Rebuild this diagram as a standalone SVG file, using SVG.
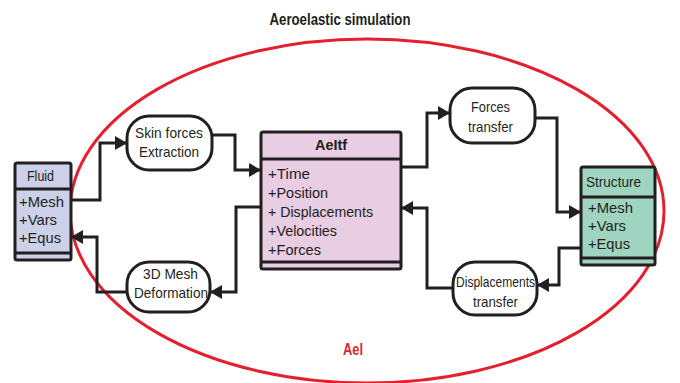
<svg xmlns="http://www.w3.org/2000/svg" width="680" height="383" viewBox="0 0 680 383">
<defs>
<style>
.t{font-family:"Liberation Sans",Arial,sans-serif;font-size:15px;fill:#231f20}
.b{font-weight:bold}
.box{stroke:#231f20;stroke-width:3}
.rr{fill:#fff;stroke:#231f20;stroke-width:3}
.c{fill:none;stroke:#231f20;stroke-width:3}
</style>
<marker id="ah" viewBox="0 0 12 14" refX="11" refY="7" markerWidth="12" markerHeight="14" markerUnits="userSpaceOnUse" orient="auto">
<path d="M0,0 L12,7 L0,14 Z" fill="#231f20"/>
</marker>
</defs>
<rect width="680" height="383" fill="#fff"/>
<ellipse cx="367" cy="211" rx="297" ry="172" fill="none" stroke="#e5202e" stroke-width="3"/>
<text class="t b" x="340" y="25" text-anchor="middle" textLength="141" lengthAdjust="spacingAndGlyphs" style="font-size:16px">Aeroelastic simulation</text>
<text class="t b" x="353" y="355" text-anchor="middle" textLength="20" lengthAdjust="spacingAndGlyphs" style="font-size:16px;fill:#d7282f">Ael</text>

<g id="connectors">
<polyline class="c" points="71,200 100,200 100,143 126,143" marker-end="url(#ah)"/>
<polyline class="c" points="212,135 235,135 235,170 260,170" marker-end="url(#ah)"/>
<polyline class="c" points="261,207 236,207 236,292 211,292" marker-end="url(#ah)"/>
<polyline class="c" points="127,292 97,292 97,237 72,237" marker-end="url(#ah)"/>
<polyline class="c" points="401,167 427,167 427,113 449,113" marker-end="url(#ah)"/>
<polyline class="c" points="535,118 557,118 557,212 580,212" marker-end="url(#ah)"/>
<polyline class="c" points="581,248 559,248 559,285 538,285" marker-end="url(#ah)"/>
<polyline class="c" points="453,288 427,288 427,208 402,208" marker-end="url(#ah)"/>
</g>

<g id="fluid">
<rect class="box" x="15" y="163" width="56" height="97" rx="2" fill="#ccd1e9"/>
<line class="box" x1="15" y1="189" x2="71" y2="189"/>
<line class="box" x1="15" y1="253" x2="71" y2="253"/>
<text class="t" x="27" y="181" textLength="27" lengthAdjust="spacingAndGlyphs">Fluid</text>
<text class="t" x="19" y="207" textLength="45" lengthAdjust="spacingAndGlyphs">+Mesh</text>
<text class="t" x="19" y="225" textLength="38" lengthAdjust="spacingAndGlyphs">+Vars</text>
<text class="t" x="19" y="243" textLength="42" lengthAdjust="spacingAndGlyphs">+Equs</text>
</g>

<g id="skin">
<rect class="rr" x="127" y="116" width="85" height="54" rx="22"/>
<text class="t" x="135" y="138" textLength="68" lengthAdjust="spacingAndGlyphs">Skin forces</text>
<text class="t" x="139" y="157" textLength="60" lengthAdjust="spacingAndGlyphs">Extraction</text>
</g>

<g id="mesh">
<rect class="rr" x="127" y="262" width="83" height="50" rx="22"/>
<text class="t" x="143" y="279" textLength="55" lengthAdjust="spacingAndGlyphs">3D Mesh</text>
<text class="t" x="134" y="298" textLength="74" lengthAdjust="spacingAndGlyphs">Deformation</text>
</g>

<g id="aeitf">
<rect class="box" x="261" y="132" width="140" height="137" rx="2" fill="#e8cde3"/>
<line class="box" x1="261" y1="159" x2="401" y2="159"/>
<line class="box" x1="261" y1="262" x2="401" y2="262"/>
<text class="t b" x="315" y="150" textLength="32" lengthAdjust="spacingAndGlyphs">AeItf</text>
<text class="t" x="268" y="179" textLength="42" lengthAdjust="spacingAndGlyphs">+Time</text>
<text class="t" x="268" y="198" textLength="60" lengthAdjust="spacingAndGlyphs">+Position</text>
<text class="t" x="268" y="217" textLength="105" lengthAdjust="spacingAndGlyphs">+ Displacements</text>
<text class="t" x="268" y="236" textLength="69" lengthAdjust="spacingAndGlyphs">+Velocities</text>
<text class="t" x="268" y="255" textLength="53" lengthAdjust="spacingAndGlyphs">+Forces</text>
</g>

<g id="forces">
<rect class="rr" x="450" y="88" width="85" height="55" rx="22"/>
<text class="t" x="471" y="112" textLength="39" lengthAdjust="spacingAndGlyphs">Forces</text>
<text class="t" x="468" y="132" textLength="45" lengthAdjust="spacingAndGlyphs">transfer</text>
</g>

<g id="displ">
<rect class="rr" x="453" y="262" width="84" height="53" rx="22"/>
<text class="t" x="456" y="287" textLength="79" lengthAdjust="spacingAndGlyphs">Displacements</text>
<text class="t" x="473" y="307" textLength="45" lengthAdjust="spacingAndGlyphs">transfer</text>
</g>

<g id="structure">
<rect class="box" x="581" y="167" width="74" height="98" rx="2" fill="#9fd5c0"/>
<line class="box" x1="581" y1="197" x2="655" y2="197"/>
<line class="box" x1="581" y1="258" x2="655" y2="258"/>
<text class="t" x="586" y="187" textLength="55" lengthAdjust="spacingAndGlyphs">Structure</text>
<text class="t" x="588" y="213" textLength="45" lengthAdjust="spacingAndGlyphs">+Mesh</text>
<text class="t" x="588" y="231" textLength="38" lengthAdjust="spacingAndGlyphs">+Vars</text>
<text class="t" x="588" y="249" textLength="42" lengthAdjust="spacingAndGlyphs">+Equs</text>
</g>
</svg>
